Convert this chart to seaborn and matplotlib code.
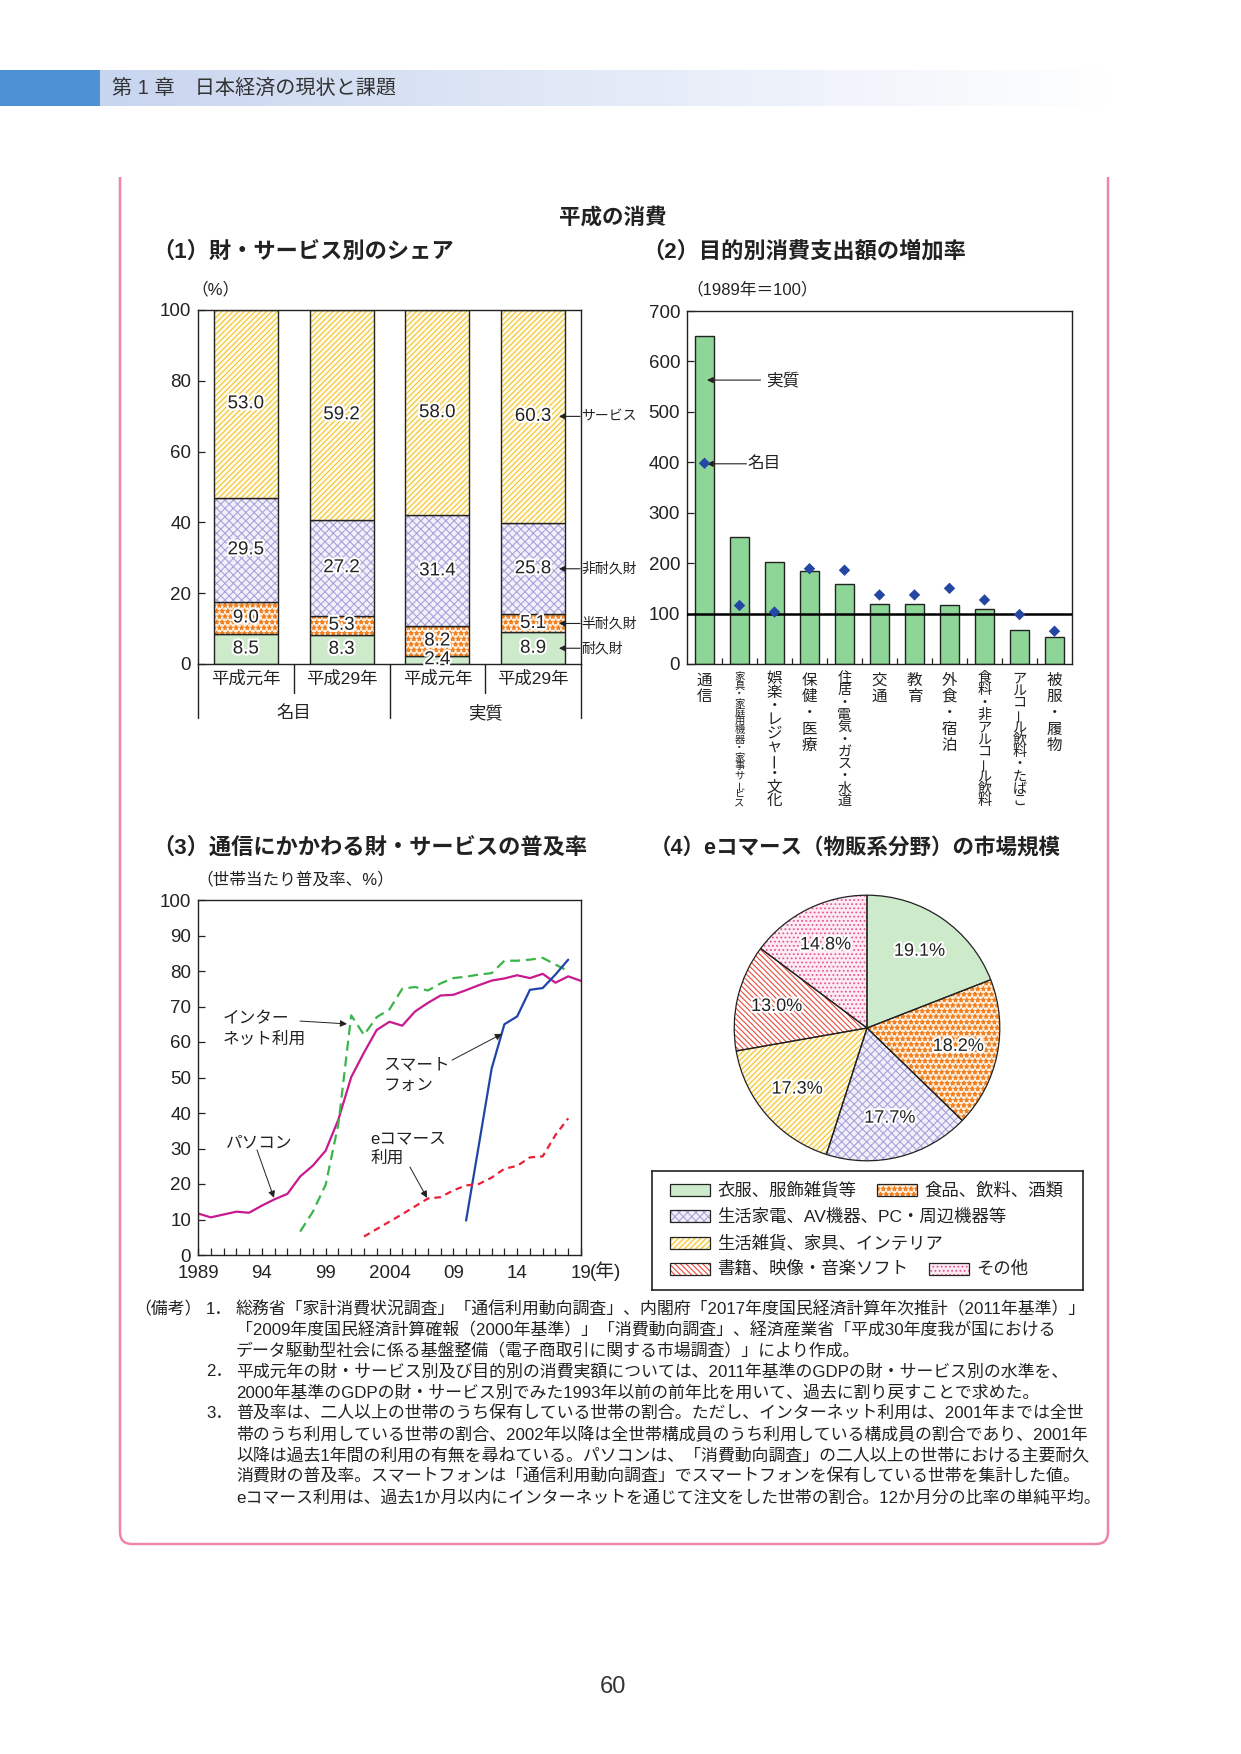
import numpy as np
import matplotlib.pyplot as plt
import matplotlib.patheffects as pe
from matplotlib.patches import Rectangle, PathPatch
from matplotlib.path import Path
from matplotlib.transforms import blended_transform_factory
from matplotlib.colors import LinearSegmentedColormap
import seaborn as sns

# ---- data ----
share_years = ["平成元年", "平成29年", "平成元年", "平成29年"]
share_groups = ["名目", "実質"]
share_names = ["耐久財", "半耐久財", "非耐久財", "サービス"]
share_durable = [8.5, 8.3, 2.4, 8.9]
share_semidurable = [9.0, 5.3, 8.2, 5.1]
share_nondurable = [29.5, 27.2, 31.4, 25.8]
share_services = [53.0, 59.2, 58.0, 60.3]

purpose_labels = ["通信", "家具・家庭用機器・家事サービス", "娯楽・レジャー・文化", "保健・医療",
                  "住居・電気・ガス・水道", "交通", "教育", "外食・宿泊",
                  "食料・非アルコール飲料", "アルコール飲料・たばこ", "被服・履物"]
purpose_real = [650, 251, 202, 184, 158, 119, 119, 117, 109, 67, 53]
purpose_nominal = [398, 116, 103, 189, 186, 137, 137, 150, 127, 98, 65]

pc_years = list(range(1989, 2020))
pc_rate = [11.7, 10.6, 11.4, 12.2, 11.9, 13.9, 15.7, 17.2, 22.1, 25.2, 29.4,
           38.2, 50.1, 57.0, 63.4, 65.7, 64.6, 68.6, 71.0, 73.1, 73.3, 74.6,
           76.0, 77.3, 77.9, 78.8, 78.0, 79.2, 76.7, 78.5, 77.2]
net_years = list(range(1997, 2019))
net_rate = [6.6, 12.2, 19.8, 37.0, 67.5, 62.0, 67.0, 69.2, 75.0, 75.5, 74.5,
            76.5, 78.0, 78.4, 79.0, 79.4, 82.9, 82.9, 83.2, 83.7, 81.8, 80.0]
sp_years = list(range(2010, 2019))
sp_rate = [9.7, 31.0, 52.5, 65.0, 67.2, 74.7, 75.2, 79.0, 83.2]
ec_years = list(range(2002, 2019))
ec_rate = [5.2, 7.3, 9.4, 11.5, 13.7, 15.9, 16.3, 18.2, 19.6, 20.0, 21.8,
           24.3, 25.1, 27.5, 27.8, 33.8, 38.5]
year_ticks = [1989, 1994, 1999, 2004, 2009, 2014, 2019]
year_ticklabels = ["1989", "94", "99", "2004", "09", "14", "19"]

ec_categories = ["衣服、服飾雑貨等", "食品、飲料、酒類", "生活家電、AV機器、PC・周辺機器等",
                 "生活雑貨、家具、インテリア", "書籍、映像・音楽ソフト", "その他"]
ec_share = [19.1, 18.2, 17.7, 17.3, 13.0, 14.8]

# fill styles: (face, hatch, hatch colour)
GREEN = ("#CDEBCB", None, "#CDEBCB")
ORANGE = ("#FFF0E0", "***", "#F08224")
PURPLE = ("#F1F0FA", "xxxx", "#A9A3DA")
YELLOW = ("#FFFBEA", "//////", "#F2C12A")
RED = ("#FFFFFF", "\\\\\\\\\\\\", "#E94B3C")
PINK = ("#FDEBF2", "....", "#E9559A")
INK = "#222222"

sns.set_theme(style="ticks")
plt.rcParams['font.family'] = ['Liberation Sans', 'Noto Sans CJK JP', 'DejaVu Sans']
plt.rcParams['hatch.linewidth'] = 0.8
plt.rcParams['text.color'] = INK

W, H = 1241, 1754
fig = plt.figure(figsize=(W / 100, H / 100), dpi=100)


def px_axes(x0, y0, x1, y1, **kw):
    return fig.add_axes([x0 / W, 1 - y1 / H, (x1 - x0) / W, (y1 - y0) / H], **kw)


halo = [pe.withStroke(linewidth=3, foreground="white")]

# ---- page furniture ----
page = px_axes(0, 0, W, H)
grad = np.linspace(0, 1, 256).reshape(1, -1)
page.imshow(grad, extent=(100, 1110, 106, 70), aspect='auto',
            cmap=LinearSegmentedColormap.from_list('hdr', ['#C8D5EF', '#FFFFFF']))
page.add_patch(Rectangle((0, 70), 100, 36, color='#4E92D5', lw=0))
page.text(112, 88, "第 1 章　日本経済の現状と課題", fontsize=14.5, color='#333333', va='center')

r = 12
verts = [(120, 177), (120, 1544 - r), (120, 1544), (120 + r, 1544), (1108 - r, 1544),
         (1108, 1544), (1108, 1544 - r), (1108, 177)]
codes = [Path.MOVETO, Path.LINETO, Path.CURVE3, Path.CURVE3, Path.LINETO,
         Path.CURVE3, Path.CURVE3, Path.LINETO]
page.add_patch(PathPatch(Path(verts, codes), fill=False, edgecolor='#EF86A6', lw=1.8))

page.text(613, 218, "平成の消費", fontsize=15.5, fontweight='bold', ha='center', va='center')
page.text(152, 252, "（1）財・サービス別のシェア", fontsize=16, fontweight='bold', va='center')
page.text(642, 252, "（2）目的別消費支出額の増加率", fontsize=16, fontweight='bold', va='center')
page.text(152, 848, "（3）通信にかかわる財・サービスの普及率", fontsize=16, fontweight='bold', va='center')
page.text(650, 848, "（4）eコマース（物販系分野）の市場規模", fontsize=15.5, fontweight='bold', va='center')
page.text(215, 289, "（%）", fontsize=12, ha='center', va='center')
page.text(686, 289, "（1989年＝100）", fontsize=12, va='center')
page.text(196, 879, "（世帯当たり普及率、%）", fontsize=12, va='center')
page.text(590, 1271, "(年)", fontsize=13.5, va='center')

notes = [
    ("（備考）", "1．", "総務省「家計消費状況調査」「通信利用動向調査」、内閣府「2017年度国民経済計算年次推計（2011年基準）」"),
    ("", "", "「2009年度国民経済計算確報（2000年基準）」「消費動向調査」、経済産業省「平成30年度我が国における"),
    ("", "", "データ駆動型社会に係る基盤整備（電子商取引に関する市場調査）」により作成。"),
    ("", "2．", "平成元年の財・サービス別及び目的別の消費実額については、2011年基準のGDPの財・サービス別の水準を、"),
    ("", "", "2000年基準のGDPの財・サービス別でみた1993年以前の前年比を用いて、過去に割り戻すことで求めた。"),
    ("", "3．", "普及率は、二人以上の世帯のうち保有している世帯の割合。ただし、インターネット利用は、2001年までは全世"),
    ("", "", "帯のうち利用している世帯の割合、2002年以降は全世帯構成員のうち利用している構成員の割合であり、2001年"),
    ("", "", "以降は過去1年間の利用の有無を尋ねている。パソコンは、「消費動向調査」の二人以上の世帯における主要耐久"),
    ("", "", "消費財の普及率。スマートフォンは「通信利用動向調査」でスマートフォンを保有している世帯を集計した値。"),
    ("", "", "eコマース利用は、過去1か月以内にインターネットを通じて注文をした世帯の割合。12か月分の比率の単純平均。"),
]
for k, (head, num, body) in enumerate(notes):
    y = 1309 + k * 21
    page.text(134, y, head, fontsize=12.2, va='center')
    page.text(206, y, num, fontsize=12.2, va='center')
    page.text(236, y, body, fontsize=12.2, va='center')
page.text(613, 1687, "60", fontsize=17, color='#333333', ha='center', va='center')
page.set_xlim(0, W)
page.set_ylim(H, 0)
page.axis('off')


def style_axes(ax):
    for s in ax.spines.values():
        s.set_linewidth(1.0)
        s.set_color(INK)
    ax.tick_params(direction='in', length=5, width=0.9, colors=INK, labelsize=13.5, pad=5)
    ax.set_xlabel('')
    ax.set_ylabel('')


# ---- (1) stacked shares ----
ax1 = px_axes(198, 310, 581, 664)
pos = np.arange(len(share_years))
base = np.zeros(len(pos))
mids = []
for vals, (face, hatch, hcol) in zip([share_durable, share_semidurable, share_nondurable, share_services],
                                     [GREEN, ORANGE, PURPLE, YELLOW]):
    vals = np.array(vals)
    sns.barplot(x=pos, y=vals, bottom=base, width=0.667, color=face, saturation=1, errorbar=None,
                hatch=hatch, edgecolor=hcol, linewidth=0, ax=ax1)
    sns.barplot(x=pos, y=vals, bottom=base, width=0.667, fill=False, color=INK, errorbar=None,
                linewidth=1.0, ax=ax1)
    for p, v, b in zip(pos, vals, base):
        ax1.text(p, b + v / 2, f"{v:.1f}", fontsize=13.5, ha='center', va='center', path_effects=halo)
    mids.append(base[-1] + vals[-1] / 2)
    base = base + vals
ax1.set_xlim(-0.5, 3.5)
ax1.set_ylim(0, 100)
ax1.set_yticks([0, 20, 40, 60, 80, 100])
ax1.set_xticks([])
style_axes(ax1)
for name, yv in zip(share_names, mids):
    ax1.annotate("", xy=(3.27, yv), xytext=(3.49, yv), annotation_clip=False,
                 arrowprops=dict(arrowstyle='-|>', color=INK, lw=0.8, mutation_scale=9, shrinkA=0, shrinkB=0))
    ax1.text(3.50, yv, name, fontsize=10, ha='left', va='center', clip_on=False)
bt = blended_transform_factory(ax1.transData, ax1.transAxes)
for xx in (-0.5, 3.5, 1.5):
    ax1.plot([xx, xx], [0, -0.1525], transform=bt, color=INK, lw=1.0, clip_on=False)
for xx in (0.5, 2.5):
    ax1.plot([xx, xx], [0, -0.082], transform=bt, color=INK, lw=1.0, clip_on=False)
for p, lab in zip(pos, share_years):
    ax1.text(p, -0.042, lab, transform=bt, fontsize=12.5, ha='center', va='center')
for g, lab in enumerate(share_groups):
    ax1.text(0.5 + 2 * g, -0.138, lab, transform=bt, fontsize=12.5, ha='center', va='center')

# ---- (2) growth by purpose ----
ax2 = px_axes(687, 311, 1072, 664)
cat_pos = np.arange(len(purpose_labels))
sns.barplot(x=cat_pos, y=purpose_real, width=0.57, color='#8ED598', saturation=1, errorbar=None,
            edgecolor=INK, linewidth=1.0, ax=ax2)
ax2.axhline(100, color='black', lw=1.8, zorder=3)
sns.scatterplot(x=cat_pos, y=purpose_nominal, marker='D', s=34, color='#2447A3', edgecolor='none',
                zorder=4, ax=ax2)
ax2.set_xlim(-0.5, 10.5)
ax2.set_ylim(0, 700)
ax2.set_yticks(range(0, 701, 100))
ax2.set_xticks(cat_pos[:-1] + 0.5)
ax2.set_xticklabels([])
style_axes(ax2)
ax2.tick_params(axis='x', length=4)
arrow_kw = dict(arrowstyle='-|>', color=INK, lw=0.8, mutation_scale=9, shrinkA=0, shrinkB=0)
ax2.annotate("", xy=(0.07, 563), xytext=(1.6, 563), arrowprops=arrow_kw)
ax2.text(1.75, 563, "実質", fontsize=12, va='center')
ax2.annotate("", xy=(0.07, 397), xytext=(1.2, 397), arrowprops=arrow_kw)
ax2.text(1.24, 397, "名目", fontsize=12, va='center')
bt2 = blended_transform_factory(ax2.transData, ax2.transAxes)
for i, lab in enumerate(purpose_labels):
    pitch = min(16.3, 135 / len(lab))
    fs = min(15.5, pitch * 1.15) / 1.389
    for k, ch in enumerate(lab):
        yc = 672 + pitch * (k + 0.5)
        ax2.text(i, -(yc - 664) / 353, ch, transform=bt2, fontsize=fs, ha='center', va='center',
                 rotation=90 if ch == 'ー' else 0)

# ---- (3) diffusion rates ----
ax3 = px_axes(198, 900, 581, 1255)
sns.lineplot(x=pc_years, y=pc_rate, color='#C8198E', lw=1.6, ax=ax3)
sns.lineplot(x=net_years, y=net_rate, color='#3AB54A', lw=1.6, linestyle=(0, (4.5, 2.6)), ax=ax3)
sns.lineplot(x=sp_years, y=sp_rate, color='#1F45A8', lw=1.6, ax=ax3)
sns.lineplot(x=ec_years, y=ec_rate, color='#E8203A', lw=1.6, linestyle=(0, (3.0, 2.2)), ax=ax3)
ax3.set_xlim(1989, 2019)
ax3.set_ylim(0, 100)
ax3.set_yticks(range(0, 101, 10))
ax3.set_xticks(year_ticks)
ax3.set_xticklabels(year_ticklabels)
ax3.set_xticks(range(1989, 2020), minor=True)
style_axes(ax3)
ax3.tick_params(axis='x', which='both', direction='in', length=5, width=0.9, pad=7)
thin = dict(arrowstyle='-|>', color=INK, lw=0.7, mutation_scale=10, shrinkA=0, shrinkB=0)
ax3.annotate("", xy=(2000.67, 65.1), xytext=(1996.99, 65.9), arrowprops=thin)
ax3.text(1990.96, 63.7, "インター\nネット利用", fontsize=12, va='center', linespacing=1.45)
ax3.annotate("", xy=(2012.81, 62.3), xytext=(2008.9, 54.9), arrowprops=thin)
ax3.text(2003.5, 50.7, "スマート\nフォン", fontsize=12, va='center', linespacing=1.45)
ax3.annotate("", xy=(1994.95, 16.1), xytext=(1993.62, 29.6), arrowprops=thin)
ax3.text(1991.2, 31.5, "パソコン", fontsize=12, va='center')
ax3.annotate("", xy=(2006.94, 16.1), xytext=(2005.6, 24.8), arrowprops=thin)
ax3.text(2002.5, 30.1, "eコマース\n利用", fontsize=12, va='center', linespacing=1.35)

# ---- (4) e-commerce market pie ----
ax4 = px_axes(867 - 166, 1028 - 166, 867 + 166, 1028 + 166)
fills = [GREEN, ORANGE, PURPLE, YELLOW, RED, PINK]
total = sum(ec_share)
wedges, _, autotexts = ax4.pie(ec_share, colors=[f[0] for f in fills], startangle=90, counterclock=False,
                               autopct=lambda p: f"{p * total / 100:.1f}%", pctdistance=0.7,
                               textprops=dict(fontsize=13, color=INK, path_effects=halo))
for w, (face, hatch, hcol) in zip(wedges, fills):
    w.set_hatch(hatch)
    w.set_edgecolor(hcol)
    w.set_linewidth(0)
ax4.pie(ec_share, colors=['none'] * len(ec_share), startangle=90, counterclock=False,
        wedgeprops=dict(edgecolor=INK, linewidth=0.9))
ax4.set_xlim(-1.25, 1.25)
ax4.set_ylim(-1.25, 1.25)

leg = px_axes(652, 1171, 1083, 1290)
leg.set_xlim(0, 431)
leg.set_ylim(119, 0)
leg.set_xticks([])
leg.set_yticks([])
for s in leg.spines.values():
    s.set_linewidth(1.2)
    s.set_color(INK)
slots = [(18, 18.6), (225, 18.6), (18, 45.3), (18, 72), (18, 97.6), (277, 97.6)]
for (lx, ly), name, (face, hatch, hcol) in zip(slots, ec_categories, fills):
    leg.add_patch(Rectangle((lx, ly - 6), 40, 12, facecolor=face, hatch=hatch, edgecolor=hcol, lw=0))
    leg.add_patch(Rectangle((lx, ly - 6), 40, 12, fill=False, edgecolor=INK, lw=0.9))
    leg.text(lx + 47, ly, name, fontsize=12.5, va='center')

fig.savefig('out.png', dpi=100)
